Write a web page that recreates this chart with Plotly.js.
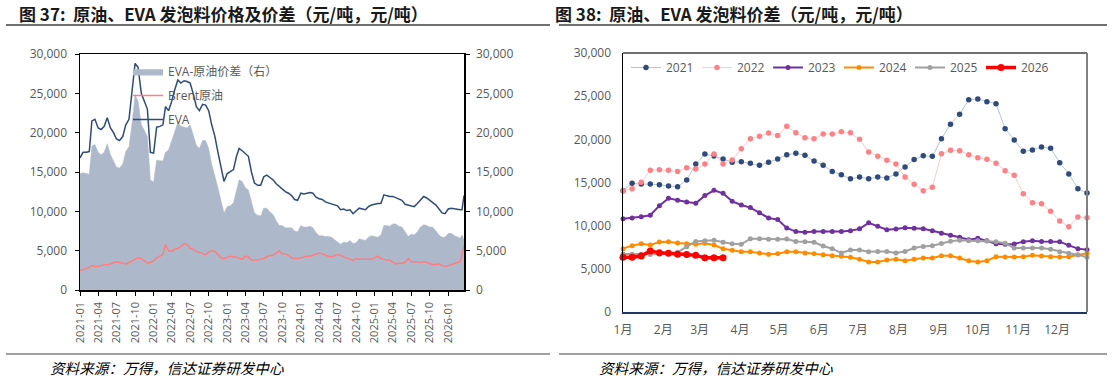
<!DOCTYPE html>
<html><head><meta charset="utf-8">
<script src="https://cdn.plot.ly/plotly-3.0.1.min.js"></script>
<style>html,body{margin:0;padding:0;background:#fff}#c{width:1113px;height:379px}</style>
</head><body><div id="c"></div>
<script>
// ---------- Left chart data (semi-monthly) ----------
const leftDates = [
"2021-01-01","2021-01-16","2021-02-01","2021-02-16","2021-03-01","2021-03-16","2021-04-01","2021-04-16","2021-05-01","2021-05-16","2021-06-01","2021-06-16",
"2021-07-01","2021-07-16","2021-08-01","2021-08-16","2021-09-01","2021-09-16","2021-10-01","2021-10-16","2021-11-01","2021-11-16","2021-12-01","2021-12-16",
"2022-01-01","2022-01-16","2022-02-01","2022-02-16","2022-03-01","2022-03-16","2022-04-01","2022-04-16","2022-05-01","2022-05-16","2022-06-01","2022-06-16",
"2022-07-01","2022-07-16","2022-08-01","2022-08-16","2022-09-01","2022-09-16","2022-10-01","2022-10-16","2022-11-01","2022-11-16","2022-12-01","2022-12-16",
"2023-01-01","2023-01-16","2023-02-01","2023-02-16","2023-03-01","2023-03-16","2023-04-01","2023-04-16","2023-05-01","2023-05-16","2023-06-01","2023-06-16",
"2023-07-01","2023-07-16","2023-08-01","2023-08-16","2023-09-01","2023-09-16","2023-10-01","2023-10-16","2023-11-01","2023-11-16","2023-12-01","2023-12-16",
"2024-01-01","2024-01-16","2024-02-01","2024-02-16","2024-03-01","2024-03-16","2024-04-01","2024-04-16","2024-05-01","2024-05-16","2024-06-01","2024-06-16",
"2024-07-01","2024-07-16","2024-08-01","2024-08-16","2024-09-01","2024-09-16","2024-10-01","2024-10-16","2024-11-01","2024-11-16","2024-12-01","2024-12-16",
"2025-01-01","2025-01-16","2025-02-01","2025-02-16","2025-03-01","2025-03-16","2025-04-01","2025-04-16","2025-05-01","2025-05-16","2025-06-01","2025-06-16",
"2025-07-01","2025-07-16","2025-08-01","2025-08-16","2025-09-01","2025-09-16","2025-10-01","2025-10-16","2025-11-01","2025-11-16","2025-12-01","2025-12-16",
"2026-01-01","2026-01-16","2026-02-01","2026-02-16","2026-03-01","2026-03-10","2026-03-20"];

const evaPrice = [
16800,17500,17500,17600,21500,21700,20600,20400,20800,21900,20600,20000,
19200,19000,19500,21000,21700,25000,28800,28300,25000,24000,23000,17500,
17400,20700,20800,21000,23300,22800,24000,25500,26700,26300,26600,26500,
26300,25000,23300,22800,23600,23500,22800,21000,19500,17500,15500,13800,
14800,15000,15300,17000,18000,17700,17300,17000,15000,13600,13300,13300,
14400,14600,14300,14000,13500,13200,12800,12500,12300,12000,11500,11400,
12300,12200,12300,12400,12300,11800,11600,11500,11200,11100,10900,10800,
10700,10200,10300,10100,10200,9700,10000,10400,10300,10200,10600,10800,
10900,11000,11000,12100,12000,11900,11900,11700,11500,11400,10900,10800,
10700,10600,11000,11500,11900,11700,11400,11200,10800,10300,9800,9700,
10300,10400,10300,10200,10200,10200,12000];

const brentPrice = [
2500,2600,2700,2900,3100,3000,3000,3100,3200,3200,3300,3500,
3600,3500,3400,3300,3500,3700,4000,4100,4000,3700,3400,3500,
3700,4100,4300,4500,5800,5000,4900,5200,5300,5500,5900,5800,
5300,5200,4900,4800,4600,4500,4800,5000,4900,4500,4100,4000,
4200,4300,4200,4200,4000,3900,4300,4200,3800,3800,3800,3900,
4000,4200,4400,4400,4700,5000,4600,4600,4400,4100,4000,4000,
4100,4200,4300,4300,4400,4500,4700,4600,4400,4300,4200,4400,
4500,4400,4200,4100,3900,3800,4000,3900,3900,3900,3900,3900,
4100,4300,4000,3900,3800,3800,3500,3300,3400,3400,3500,4000,
3600,3600,3600,3500,3600,3500,3400,3200,3300,3300,3100,3000,
3100,3200,3400,3500,3600,4500,5600];

const evaSpread = [
14800,14900,14800,14700,18300,18500,17500,17200,17500,18600,17200,16400,
15600,15500,16000,17600,18200,21200,24800,24000,21000,20300,19500,14000,
13700,16500,16400,16400,17500,17800,19000,20300,21300,20800,20700,20600,
21000,19800,18400,18000,19000,19000,18000,16000,14600,13000,11400,9800,
10600,10700,11100,12800,14000,13800,13000,12700,11200,9800,9500,9400,
10400,10400,9900,9600,8800,8200,8200,7900,7900,7900,7500,7400,
8200,8000,8000,8100,7900,7300,6900,6900,6800,6800,6700,6400,
6200,5800,6100,6000,6300,5900,6000,6500,6400,6300,6700,6900,
6800,6700,7000,8200,8200,8100,8400,8400,8100,8000,7400,6800,
7100,7000,7400,8000,8300,8200,8000,8000,7500,7000,6700,6700,
7200,7200,6900,6700,6600,7000,6400];

// ---------- Right chart data (weekly, week 1 = Jan 1) ----------
const monthLabelFormat = "%-m月";
const s2021 = [14050,14900,14830,14830,14750,14600,14520,15290,17140,18300,18070,17720,17340,17410,17220,16990,17340,17720,18220,18380,18150,17490,16990,16260,15910,15430,
15640,15440,15640,15520,15990,16800,17650,18110,18030,20080,21740,22900,24590,24670,24360,24130,21240,19920,18610,18760,19110,18960,17300,15990,14290,13780];
const s2022 = [14050,14290,15020,16410,16490,16410,16260,16720,16560,17140,18300,17140,17610,18920,20080,20350,20730,20430,21510,20770,20190,20080,20620,20620,20890,20750,
20000,18530,18030,17570,17140,15640,14790,14050,14440,18340,18730,18690,18220,17880,17680,17220,16370,15830,13710,12660,12550,11660,10540,9880,11000,10930];
const s2023 = [10810,10890,11040,11200,12320,13170,12940,12740,12590,13480,14090,13750,12820,12390,12090,11510,10890,10700,9730,9310,9230,9310,9310,9310,9310,9400,
9630,10330,9940,9540,9610,9770,9690,9630,9420,9110,8880,8650,8370,8550,8260,7900,7860,7880,8150,8240,8170,8170,8150,7720,7340,7200];
const s2024 = [7336,7683,7915,7761,8108,8147,7992,7915,7838,7954,7761,7336,7142,6988,6988,6834,6679,6757,6988,6988,6834,6757,6641,
6525,6448,6332,6100,5792,5792,6023,6100,5946,6100,6255,6255,6525,6525,6255,5946,5792,5946,6410,6371,6371,6410,6564,6486,6410,6371,6410,6602,6795];
const s2025 = [6720,6700,6680,6650,6700,6780,6910,7568,8170,8263,8320,8090,7915,7838,8494,8494,8417,8417,8456,8160,8147,8070,7645,7336,6830,7181,
7181,6990,7010,7010,6830,7010,7413,7600,7680,7930,8185,8320,8263,8263,8224,8147,7954,7413,7413,7413,7413,7259,6988,6795,6641,6350];
const s2026 = [6330,6350,6490,7080,6850,6810,6700,6660,6560,6270,6270,6290];
const seriesNames = ["2021","2022","2023","2024","2025","2026"];

// weekly x positions as dates in a common year
function weekDates(n){const out=[];for(let i=0;i<n;i++){const d=new Date(Date.UTC(2021,0,1+7*i));out.push(d.toISOString().slice(0,10));}return out;}

// ---------- layout helpers ----------
const W=1113,H=379;
const px=x=>x/W, py=y=>1-y/H;
const gray='#595959';
const fam='"Open Sans", "Noto Sans CJK SC", sans-serif';
const tickFont={family:fam,size:12,color:gray};

const traces=[];
traces.push({x:leftDates,y:evaSpread,type:'scatter',mode:'lines',name:'EVA-原油价差（右）',
  fill:'tozeroy',fillcolor:'#ADB9CA',line:{color:'#ADB9CA',width:0.5},xaxis:'x',yaxis:'y',legendgroup:'a',legend:'legend'});
traces.push({x:leftDates,y:brentPrice,type:'scatter',mode:'lines',name:'Brent原油',
  line:{color:'#FF7C80',width:1.5},xaxis:'x',yaxis:'y2',legendgroup:'b',legend:'legend'});
traces.push({x:leftDates,y:evaPrice,type:'scatter',mode:'lines',name:'EVA',line:{color:'#2F4B7C',width:1.5},
  xaxis:'x',yaxis:'y2',legendgroup:'c',legend:'legend'});

const rs=[s2021,s2022,s2023,s2024,s2025,s2026];
const styles=[
 {line:{color:'#B8C4D9',width:1},marker:{color:'#2F4B7C',size:5.5}},
 {line:{color:'#FFC9CB',width:1},marker:{color:'#FF8085',size:5.5}},
 {line:{color:'#7030A0',width:2},marker:{color:'#7030A0',size:5}},
 {line:{color:'#FF8C00',width:2},marker:{color:'#FF8C00',size:5}},
 {line:{color:'#A0A0A0',width:2},marker:{color:'#A0A0A0',size:5}},
 {line:{color:'#FF0000',width:3.5},marker:{color:'#FF0000',size:7}}];
rs.forEach((s,i)=>{
  traces.push(Object.assign({x:weekDates(s.length),y:s,type:'scatter',mode:'lines+markers',name:seriesNames[i],
   xaxis:'x2',yaxis:'y3',legend:'legend2',cliponaxis:false},styles[i]));
});

const lx0=80,lx1=464,ly0=54,ly1=290;
const rx0=623,rx1=1087,ry0=53,ry1=312;

const layout={
  width:W,height:H,margin:{l:0,r:0,t:0,b:0,autoexpand:false},paper_bgcolor:'#fff',plot_bgcolor:'rgba(0,0,0,0)',
  showlegend:true,
  font:{family:fam,color:gray},
  xaxis:{type:'date',domain:[px(lx0),px(lx1)],anchor:'y',range:['2021-01-01','2026-03-20'],
    tick0:'2021-01-01',dtick:'M3',tickformat:'%Y-%m',tickangle:-90,ticks:'outside',ticklen:4,tickcolor:'#000',
    showline:true,linecolor:'#000',linewidth:1.5,mirror:true,showgrid:false,zeroline:false,ticklabelstandoff:2,
    tickfont:{family:fam,size:11,color:gray}},
  yaxis:{domain:[py(ly1),py(ly0)],anchor:'x',side:'right',range:[0,30000],dtick:5000,tickformat:',d',
    ticks:'outside',ticklen:4,tickcolor:'#000',showline:true,linecolor:'#000',linewidth:1.5,showgrid:false,zeroline:false,
    ticklabelstandoff:4,tickfont:tickFont},
  yaxis2:{overlaying:'y',anchor:'x',side:'left',range:[0,30000],dtick:5000,tickformat:',d',
    ticks:'outside',ticklen:4,tickcolor:'#000',showline:true,linecolor:'#000',linewidth:1.5,showgrid:false,zeroline:false,
    ticklabelstandoff:5,tickfont:tickFont},
  xaxis2:{type:'date',domain:[px(rx0),px(rx1)],anchor:'y3',range:['2021-01-01','2021-12-24'],
    tick0:'2021-01-01',dtick:'M1',tickformat:monthLabelFormat,tickangle:0,ticks:'',showline:true,linecolor:'#1F3864',linewidth:1.5,
    showgrid:false,zeroline:false,ticklabelstandoff:6,tickfont:tickFont},
  yaxis3:{domain:[py(ry1),py(ry0)],anchor:'x2',range:[0,30000],dtick:5000,tickformat:',d',ticks:'',
    showline:true,linecolor:'#000',linewidth:1.5,showgrid:false,zeroline:false,ticklabelstandoff:8,tickfont:tickFont},
  legend:{x:px(128),y:py(57),xanchor:'left',yanchor:'top',bgcolor:'rgba(0,0,0,0)',traceorder:'grouped',tracegroupgap:5,
    font:{family:fam,size:12,color:gray}},
  legend2:{orientation:'h',x:px(626),y:py(53),xanchor:'left',yanchor:'top',bgcolor:'rgba(0,0,0,0)',
    entrywidth:26,entrywidthmode:'pixels',font:{family:fam,size:12,color:gray}},
  shapes:[
    {type:'line',xref:'paper',yref:'paper',x0:px(6),x1:px(550),y0:py(25),y1:py(25),line:{color:'#404040',width:1.5}},
    {type:'line',xref:'paper',yref:'paper',x0:px(559),x1:px(1107),y0:py(25),y1:py(25),line:{color:'#404040',width:1.5}},
    {type:'line',xref:'paper',yref:'paper',x0:px(6),x1:px(550),y0:py(354),y1:py(354),line:{color:'#404040',width:1.2}},
    {type:'line',xref:'paper',yref:'paper',x0:px(559),x1:px(1107),y0:py(354),y1:py(354),line:{color:'#404040',width:1.2}},
    {type:'line',xref:'paper',yref:'paper',x0:px(rx0),x1:px(rx1),y0:py(ry0),y1:py(ry0),line:{color:'#404040',width:1.5}},
    {type:'line',xref:'paper',yref:'paper',x0:px(rx1),x1:px(rx1),y0:py(ry0),y1:py(ry1),line:{color:'#808080',width:2}}
  ],
  annotations:[
    {text:'<b>图 37:  原油、EVA 发泡料价格及价差（元/吨，元/吨）</b>',xref:'paper',yref:'paper',x:px(17),y:py(14),xanchor:'left',yanchor:'middle',showarrow:false,
     font:{family:'"Noto Sans CJK SC", sans-serif',size:17,color:'#1a1a1a'}},
    {text:'<b>图 38:  原油、EVA 发泡料价差（元/吨，元/吨）</b>',xref:'paper',yref:'paper',x:px(553),y:py(14),xanchor:'left',yanchor:'middle',showarrow:false,
     font:{family:'"Noto Sans CJK SC", sans-serif',size:17,color:'#1a1a1a'}},
    {text:'<i>资料来源：万得，信达证券研发中心</i>',xref:'paper',yref:'paper',x:px(48),y:py(367),xanchor:'left',yanchor:'middle',showarrow:false,
     font:{family:'"Noto Sans CJK SC", sans-serif',size:14.6,color:'#000'}},
    {text:'<i>资料来源：万得，信达证券研发中心</i>',xref:'paper',yref:'paper',x:px(597),y:py(367),xanchor:'left',yanchor:'middle',showarrow:false,
     font:{family:'"Noto Sans CJK SC", sans-serif',size:14.6,color:'#000'}}
  ]
};
Plotly.newPlot('c',traces,layout,{staticPlot:true,displayModeBar:false});
</script></body></html>
